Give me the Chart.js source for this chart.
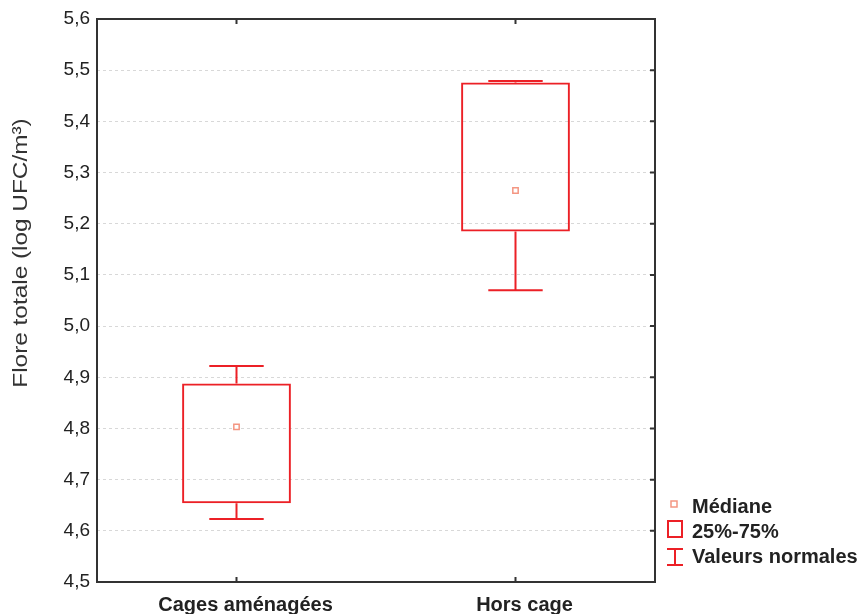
<!DOCTYPE html>
<html><head><meta charset="utf-8">
<script src="https://cdn.jsdelivr.net/npm/chart.js@4.4.1/dist/chart.umd.min.js"></script>
<style>html,body{margin:0;padding:0;background:#fff}#wrap{width:860px;height:614px}</style>
</head><body><div id="wrap"><canvas id="c" width="860" height="614"></canvas></div>
<script>
const categories = ['Cages aménagées', 'Hors cage'];
const q1 = [4.654, 5.185];
const q3 = [4.888, 5.476];
const whiskerLow = [4.623, 5.070];
const whiskerHigh = [4.922, 5.479];
const median = [4.803, 5.265];
const yTitle = 'Flore totale (log UFC/m³)';
const legendLabels = ['Médiane', '25%-75%', 'Valeurs normales'];

const RED = 'rgb(236,32,38)';
const SALMON = 'rgb(244,150,130)';
const FONT = '"Liberation Sans", Arial, sans-serif';

const boxPlugin = {
  id: 'boxExtras',
  afterDatasetsDraw(chart) {
    const ctx = chart.ctx, x = chart.scales.x, y = chart.scales.y;
    const meta = chart.getDatasetMeta(0);
    ctx.save();
    ctx.strokeStyle = RED; ctx.lineWidth = 2;
    categories.forEach((c, i) => {
      const cx = x.getPixelForValue(i);
      const cap = meta.data[i].width / 2;
      const yl = y.getPixelForValue(whiskerLow[i]), yh = y.getPixelForValue(whiskerHigh[i]);
      const yq1 = y.getPixelForValue(q1[i]), yq3 = y.getPixelForValue(q3[i]);
      ctx.beginPath();
      ctx.moveTo(cx, yq1); ctx.lineTo(cx, yl);
      ctx.moveTo(cx, yq3); ctx.lineTo(cx, yh);
      ctx.moveTo(cx - cap / 2, yl); ctx.lineTo(cx + cap / 2, yl);
      ctx.moveTo(cx - cap / 2, yh); ctx.lineTo(cx + cap / 2, yh);
      ctx.stroke();
    });
    ctx.restore();
  },
  afterDraw(chart) {
    const ctx = chart.ctx, x = chart.scales.x, y = chart.scales.y, a = chart.chartArea;
    ctx.save();
    ctx.strokeStyle = '#333'; ctx.lineWidth = 2;
    ctx.strokeRect(a.left, a.top, a.right - a.left, a.bottom - a.top);
    ctx.beginPath();
    categories.forEach((c, i) => {
      const cx = x.getPixelForValue(i);
      ctx.moveTo(cx, a.bottom); ctx.lineTo(cx, a.bottom - 5);
      ctx.moveTo(cx, a.top); ctx.lineTo(cx, a.top + 5);
    });
    y.ticks.forEach(t => {
      const py = y.getPixelForValue(t.value);
      ctx.moveTo(a.right, py); ctx.lineTo(a.right - 5, py);
    });
    ctx.stroke();
    // y axis title (stretched like the original)
    ctx.save();
    ctx.translate(21, 253);
    ctx.rotate(-Math.PI / 2);
    ctx.scale(1.16, 1);
    ctx.font = '21px ' + FONT;
    ctx.fillStyle = '#333';
    ctx.textAlign = 'center';
    ctx.textBaseline = 'middle';
    ctx.fillText(yTitle, 0, 0);
    ctx.restore();
    // legend
    ctx.font = 'bold 20px ' + FONT;
    ctx.fillStyle = '#222';
    ctx.textBaseline = 'middle';
    ctx.textAlign = 'left';
    ctx.strokeStyle = SALMON; ctx.lineWidth = 1.5;
    ctx.strokeRect(671, 501, 6, 6);
    ctx.fillText(legendLabels[0], 692, 507);
    ctx.strokeStyle = RED; ctx.lineWidth = 2;
    ctx.strokeRect(668, 521, 14, 16);
    ctx.fillText(legendLabels[1], 692, 532);
    ctx.beginPath();
    ctx.moveTo(667, 549); ctx.lineTo(683, 549);
    ctx.moveTo(675, 549); ctx.lineTo(675, 565);
    ctx.moveTo(667, 565); ctx.lineTo(683, 565);
    ctx.stroke();
    ctx.fillText(legendLabels[2], 692, 557);
    ctx.restore();
  }
};

new Chart(document.getElementById('c'), {
  data: {
    labels: categories,
    datasets: [
      {
        type: 'bar',
        data: categories.map((c, i) => [q1[i], q3[i]]),
        backgroundColor: 'rgba(0,0,0,0)',
        borderColor: RED,
        borderWidth: 2,
        borderSkipped: false,
        categoryPercentage: 1,
        barPercentage: 0.39,
        order: 2
      },
      {
        type: 'line',
        data: median,
        showLine: false,
        pointStyle: 'rect',
        pointRadius: 3.8,
        pointBorderWidth: 1.5,
        pointBorderColor: SALMON,
        pointBackgroundColor: '#fff',
        order: 1
      }
    ]
  },
  options: {
    responsive: false,
    animation: false,
    devicePixelRatio: 1,
    layout: { padding: { left: 0, right: 205, top: 19, bottom: 0 } },
    plugins: { legend: { display: false }, tooltip: { enabled: false } },
    scales: {
      x: {
        type: 'category',
        offset: true,
        grid: { display: false },
        border: { display: false },
        ticks: { color: '#222', font: { family: FONT, size: 20, weight: 'bold' }, padding: 3, labelOffset: 9 },
        afterFit(s) { s.height = 32; }
      },
      y: {
        min: 4.5, max: 5.6,
        grid: { color: '#d8d8d8', drawTicks: false, lineWidth: 1 },
        border: { display: false, dash: [3, 3] },
        ticks: {
          stepSize: 0.1,
          color: '#222',
          padding: 7,
          font: { family: FONT, size: 19 },
          callback: v => v.toFixed(1).replace('.', ',')
        },
        afterFit(s) { s.width = 97; }
      }
    }
  },
  plugins: [boxPlugin]
});
</script></body></html>
